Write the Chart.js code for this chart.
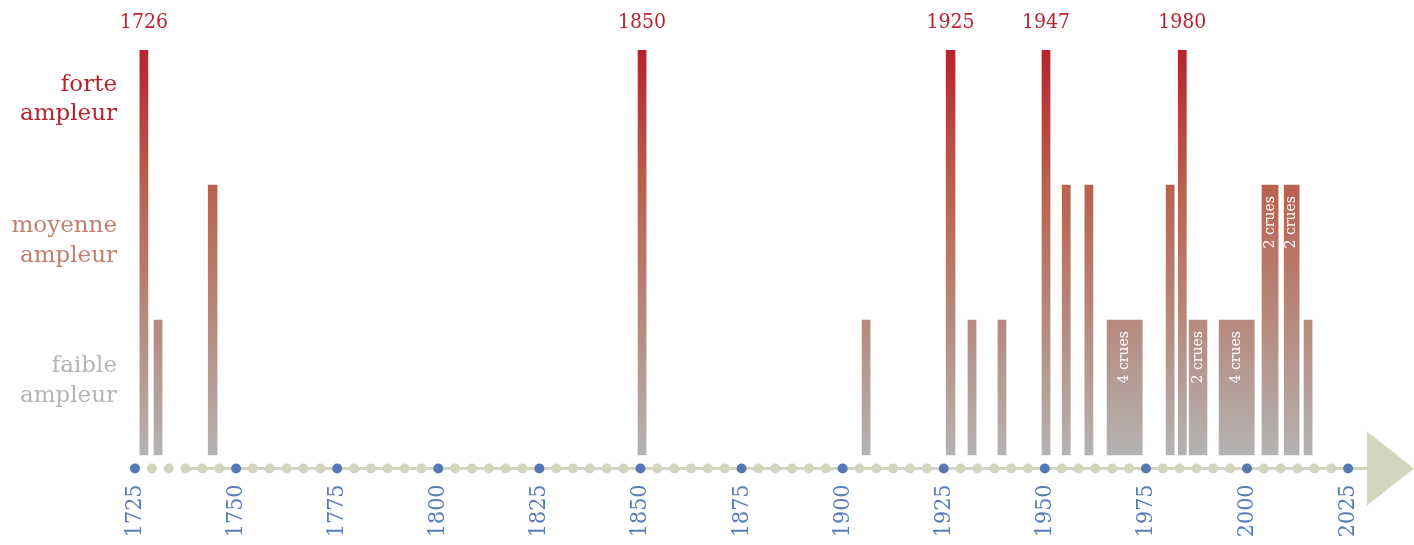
<!DOCTYPE html>
<html lang="fr">
<head>
<meta charset="utf-8">
<title>Crues</title>
<script src="https://cdn.jsdelivr.net/npm/chart.js@4.4.1/dist/chart.umd.min.js"></script>
<style>
  html, body { margin: 0; padding: 0; background: #fff; }
  #wrap { width: 1414px; height: 545px; position: relative; }
</style>
</head>
<body>
<div id="wrap"><canvas id="crues"></canvas></div>
<script>
// periodes des crues (debut / fin, en annees)
const floodStart = [1726.2, 1729.7, 1743.1, 1849.4, 1904.8, 1925.6, 1931.0, 1938.4, 1949.3, 1954.3, 1959.9, 1965.4, 1980.0, 1983.0, 1985.7, 1993.1, 2003.7, 2009.2, 2014.1]
const floodEnd = [1728.2, 1731.7, 1745.3, 1851.4, 1906.8, 1927.8, 1933.0, 1940.4, 1951.3, 1956.3, 1961.9, 1974.1, 1982.0, 1985.0, 1990.1, 2001.8, 2007.7, 2012.9, 2016.1]
// 1 = faible, 2 = moyenne, 3 = forte
const floodLevel = [3, 1, 2, 3, 1, 3, 1, 1, 3, 2, 2, 1, 2, 3, 1, 1, 2, 2, 1]
const floodYearLabel = ["1726", "", "", "1850", "", "1925", "", "", "1947", "", "", "", "", "1980", "", "", "", "", ""]
const floodCount = ["", "", "", "", "", "", "", "", "", "", "", "4 crues", "", "", "2 crues", "4 crues", "2 crues", "2 crues", ""]

const axisYears = [1725, 1750, 1775, 1800, 1825, 1850, 1875, 1900, 1925, 1950, 1975, 2000, 2025]
const levelTicks = [0.548, 1.585, 2.633]
const levelLabels = [["faible", "ampleur"], ["moyenne", "ampleur"], ["forte", "ampleur"]]

const numFont = "'DejaVu Serif Condensed', 'DejaVu Serif', serif"

function barGradient(context) {
  const chart = context.chart
  if (!chart.chartArea) return "#b5b3b3"
  const y = chart.scales.y
  const g = chart.ctx.createLinearGradient(0, y.getPixelForValue(3), 0, y.getPixelForValue(0))
  g.addColorStop(0, "#b7232e")
  g.addColorStop(0.34, "#b9624f")
  g.addColorStop(0.67, "#b68a7d")
  g.addColorStop(1, "#b4b3b3")
  return g
}

const timeline = {
  id: "timeline",
  beforeDatasetsDraw(chart) {
    const { ctx, chartArea } = chart
    const x = chart.scales.x
    const y = chartArea.bottom
    ctx.save()
    ctx.strokeStyle = "#d3d5bf"
    ctx.fillStyle = "#d3d5bf"
    ctx.lineWidth = 3
    ctx.beginPath()
    ctx.moveTo(x.getPixelForValue(x.ticks[3].value), y)
    ctx.lineTo(chartArea.right - 40, y)
    ctx.stroke()

    // fleche
    ctx.beginPath()
    ctx.moveTo(chartArea.right, y)
    ctx.lineTo(chartArea.right - 47, y - 37)
    ctx.lineTo(chartArea.right - 47, y + 37)
    ctx.closePath()
    ctx.fill()

    x.ticks.forEach((t) => {
      const major = axisYears.includes(t.value)
      ctx.fillStyle = major ? "#5577b4" : "#d3d5bf"
      ctx.beginPath()
      ctx.arc(x.getPixelForValue(t.value), y, 5, 0, Math.PI * 2)
      ctx.fill()
    })
    ctx.restore()
  },
  afterDatasetsDraw(chart) {
    const { ctx } = chart
    ctx.save()
    chart.data.datasets.forEach((ds, i) => {
      const bar = chart.getDatasetMeta(i).data[0]
      if (!bar) return
      if (floodYearLabel[i]) {
        ctx.fillStyle = "#b8232e"
        ctx.font = "21px " + numFont
        ctx.textAlign = "center"
        ctx.textBaseline = "middle"
        ctx.fillText(floodYearLabel[i], bar.x, chart.chartArea.top - 27)
      }
      if (floodCount[i]) {
        ctx.save()
        ctx.translate(bar.x, bar.y + 11)
        ctx.rotate(-Math.PI / 2)
        ctx.fillStyle = "#ffffff"
        ctx.font = "14px 'DejaVu Serif'"
        ctx.textAlign = "right"
        ctx.textBaseline = "middle"
        ctx.fillText(floodCount[i], 0, 0)
        ctx.restore()
      }
    })
    ctx.restore()
  }
}

const datasets = floodLevel.map((lvl, i) => ({
  data: [{ x: (floodStart[i] + floodEnd[i]) / 2, y: lvl }],
  stack: "crues",
  backgroundColor: barGradient,
  borderWidth: 0,
  barThickness: (ctx) => {
    const sc = ctx.chart.scales.x
    if (!sc || !sc.width) return 8
    return sc.getPixelForValue(floodEnd[i]) - sc.getPixelForValue(floodStart[i])
  }
}))

new Chart(document.getElementById("crues"), {
  type: "bar",
  data: { datasets },
  options: {
    responsive: true,
    maintainAspectRatio: false,
    animation: false,
    layout: { padding: { top: 50, left: 0, right: 0, bottom: 0 } },
    plugins: {
      legend: { display: false },
      tooltip: { enabled: false }
    },
    scales: {
      x: {
        type: "linear",
        offset: false,
        min: 1725,
        max: 2041.3,
        afterFit: (s) => { s.height = 76.5 },
        afterBuildTicks: (s) => {
          const ticks = []
          axisYears.forEach((yr, i) => {
            ticks.push({ value: yr })
            if (i < axisYears.length - 1) {
              const step = (axisYears[i + 1] - yr) / 6
              for (let k = 1; k < 6; k++) ticks.push({ value: yr + k * step })
            }
          })
          s.ticks = ticks
        },
        grid: { display: false, drawTicks: false },
        border: { display: false },
        ticks: {
          autoSkip: false,
          minRotation: 90,
          maxRotation: 90,
          padding: 16,
          color: "#5a7dba",
          font: { family: numFont, size: 23 },
          callback: (v) => axisYears.includes(v) ? String(v) : ""
        }
      },
      y: {
        min: -0.1,
        max: 3,
        stacked: false,
        afterFit: (s) => { s.width = 135 },
        afterBuildTicks: (s) => { s.ticks = levelTicks.map((v) => ({ value: v })) },
        grid: { display: false, drawTicks: false },
        border: { display: false },
        ticks: {
          padding: 18,
          font: { family: "DejaVu Serif", size: 23, lineHeight: 1.3 },
          color: (c) => ["#b5b5b5", "#c1806f", "#b8232e"][c.index],
          callback: (v, i) => levelLabels[i]
        }
      }
    }
  },
  plugins: [timeline]
})
</script>
</body>
</html>
